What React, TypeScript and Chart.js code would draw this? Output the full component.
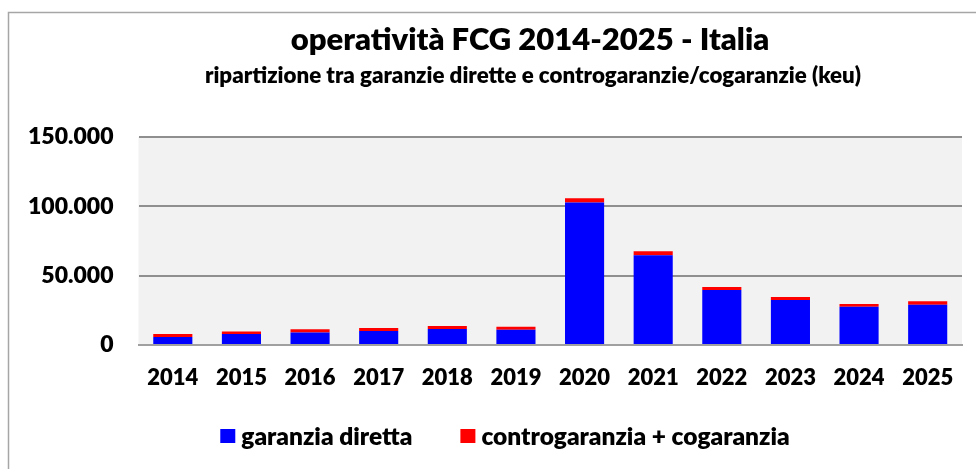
import React, { useEffect, useRef } from 'react';
import { Chart, registerables } from 'chart.js';

Chart.register(...registerables);

const years = ['2014', '2015', '2016', '2017', '2018', '2019', '2020', '2021', '2022', '2023', '2024', '2025'];
const garanziaDiretta = [5800, 7900, 9100, 10100, 11500, 11000, 102700, 64700, 39700, 32500, 27600, 29100];
const controCogaranzia = [2200, 1900, 2200, 2200, 2200, 2200, 3100, 2900, 2200, 2200, 1900, 2400];
const yTickValues = [0, 50000, 100000, 150000];
const yTickLabels = ['0', '50.000', '100.000', '150.000'];
const seriesLabels = ['garanzia diretta', 'controgaranzia + cogaranzia'];
const seriesColors = ['#0000ff', '#ff0000'];
const titleText = 'operatività FCG 2014-2025 - Italia';
const subtitleText = 'ripartizione tra garanzie dirette e controgaranzie/cogaranzie (keu)';

const FONT = 'Lato, "Open Sans", "DejaVu Sans", sans-serif';
const W = '800';

const decorPlugin = {
  id: 'excelDecor',
  beforeDraw(chart: any) {
    const { ctx, chartArea: a } = chart;
    ctx.save();
    ctx.fillStyle = '#ffffff';
    ctx.fillRect(0, 0, chart.width, chart.height);
    ctx.strokeStyle = '#a6a6a6';
    ctx.lineWidth = 1.5;
    ctx.beginPath();
    ctx.moveTo(8.5, chart.height);
    ctx.lineTo(8.5, 12.5);
    ctx.lineTo(chart.width, 12.5);
    ctx.stroke();
    ctx.fillStyle = '#f2f2f2';
    ctx.fillRect(a.left, a.top, a.right - a.left, a.bottom - a.top);
    ctx.restore();
  },
  afterDraw(chart: any) {
    const { ctx } = chart;
    ctx.save();
    ctx.fillStyle = '#000000';
    ctx.textAlign = 'center';
    ctx.textBaseline = 'middle';
    ctx.font = `${W} 31px ${FONT}`;
    ctx.fillText(titleText, 530, 40);
    ctx.font = `${W} 22.3px ${FONT}`;
    ctx.fillText(subtitleText, 533, 76);

    // legend
    ctx.font = `${W} 24.5px ${FONT}`;
    const boxW = 15;
    const boxH = 14;
    const gapText = 6;
    const gapItem = 48;
    const ds = chart.data.datasets;
    const widths = ds.map((d: any) => boxW + gapText + ctx.measureText(d.label).width);
    const total = widths.reduce((s: number, w: number) => s + w, 0) + gapItem * (ds.length - 1);
    let x = 505 - total / 2;
    const cy = 436;
    ctx.textAlign = 'left';
    ds.forEach((d: any, i: number) => {
      ctx.fillStyle = d.backgroundColor;
      ctx.fillRect(x, cy - boxH / 2, boxW, boxH);
      ctx.fillStyle = '#000000';
      ctx.fillText(d.label, x + boxW + gapText, cy + 1);
      x += widths[i] + gapItem;
    });
    ctx.restore();
  },
};

export default function App() {
  const canvasRef = useRef<HTMLCanvasElement | null>(null);

  useEffect(() => {
    if (!canvasRef.current) return;
    const chart = new Chart(canvasRef.current, {
      type: 'bar',
      data: {
        labels: years,
        datasets: [
          {
            label: seriesLabels[0],
            data: garanziaDiretta,
            backgroundColor: seriesColors[0],
            categoryPercentage: 1,
            barPercentage: 0.57,
          },
          {
            label: seriesLabels[1],
            data: controCogaranzia,
            backgroundColor: seriesColors[1],
            categoryPercentage: 1,
            barPercentage: 0.57,
          },
        ],
      },
      options: {
        animation: false,
        responsive: false,
        maintainAspectRatio: false,
        layout: { padding: { top: 137, right: 14, bottom: 0, left: 0 } },
        plugins: {
          legend: { display: false },
          title: { display: false },
          tooltip: { enabled: false },
        },
        scales: {
          x: {
            stacked: true,
            grid: { display: false, drawTicks: false },
            border: { display: true, color: '#a0a0a0', width: 2 },
            ticks: {
              color: '#000000',
              font: { family: FONT, size: 22, weight: W },
              padding: 20,
              maxRotation: 0,
            },
            afterFit(scale: any) {
              scale.height = 124;
            },
          },
          y: {
            stacked: true,
            min: 0,
            max: 150000,
            afterBuildTicks(scale: any) {
              scale.ticks = yTickValues.map((v) => ({ value: v }));
            },
            grid: { color: '#8f8f8f', lineWidth: 2, drawTicks: false },
            border: { display: false },
            ticks: {
              color: '#000000',
              font: { family: FONT, size: 23, weight: W },
              padding: 25,
              callback: (value: any) => {
                const idx = yTickValues.indexOf(Number(value));
                return idx >= 0 ? yTickLabels[idx] : '';
              },
            },
            afterFit(scale: any) {
              scale.width = 138.5;
            },
          },
        },
      },
      plugins: [decorPlugin],
    });
    return () => chart.destroy();
  }, []);

  return (
    <div style={{ position: 'fixed', left: 0, top: 0, width: 976, height: 469, background: '#ffffff' }}>
      <canvas ref={canvasRef} width={976} height={469} style={{ width: 976, height: 469, display: 'block' }} />
    </div>
  );
}
